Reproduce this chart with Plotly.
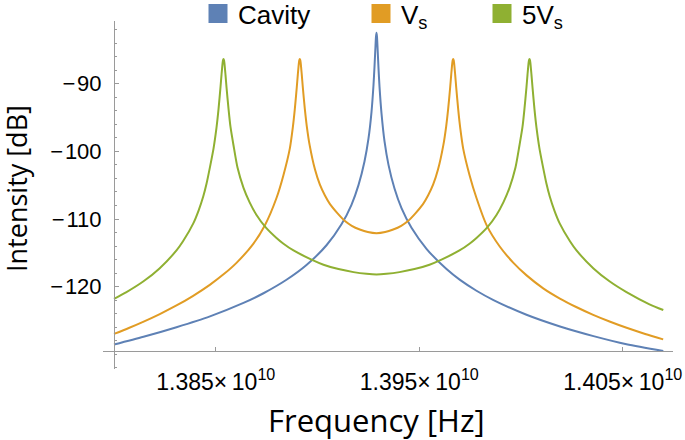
import plotly.graph_objects as go

# ---- data ----
center_freq_hz = 13.92899e9          # common centre frequency of the spectra

# Cavity
cavity_detuning_mhz = [-129.0, -114.5, -98.28, -81.82, -65.36, -55.53, -44.23, -34.40, -24.57, -17.20,
                       -12.29, -8.85, -5.90, -3.93, -2.46, -1.47, -0.98, -0.49, -0.25, 0.0,
                       0.25, 0.49, 0.98, 1.47, 2.46, 3.93, 5.90, 8.85, 12.29, 17.20,
                       24.57, 34.40, 41.03, 49.14, 57.49, 73.71, 90.17, 106.63, 122.85, 140.93]
cavity_db = [-128.55, -127.4, -125.98, -124.38, -122.4, -120.97, -118.98, -116.8, -113.88, -110.78,
             -107.9, -105.0, -101.5, -98.1, -94.2, -90.2, -87.5, -84.4, -83.06, -82.5,
             -83.1, -84.5, -87.7, -90.4, -94.4, -98.5, -102.0, -105.5, -108.4, -111.3,
             -114.4, -117.4, -119.0, -120.6, -121.98, -124.15, -125.88, -127.3, -128.5, -129.5]

# Vs
vs_detuning_mhz = [-129.0, -121.72, -114.69, -106.49, -98.28, -90.27, -81.92, -74.55, -68.80, -60.64,
                   -54.89, -49.14, -45.80, -42.60, -41.13, -40.15, -39.16, -38.67, -38.18, -37.94, -37.69,
                   -37.44, -37.20, -36.71, -36.22, -35.23, -34.25, -32.78, -30.22, -27.86, -25.40,
                   -22.85, -19.02, -15.48, -12.14, -8.21, -4.27, 0.0,
                   4.27, 8.21, 12.14, 15.48, 19.02, 22.85, 25.40, 27.86, 30.22, 32.78,
                   34.25, 35.23, 36.22, 36.71, 37.20, 37.44, 37.69,
                   37.94, 38.18, 38.67, 39.16, 40.15, 41.13, 42.60, 45.80, 49.14, 54.10,
                   60.64, 67.17, 73.76, 81.92, 90.12, 98.13, 106.49, 114.84, 122.90, 132.04, 140.88]
vs_db = [-126.98, -126.1, -125.19, -124.04, -122.77, -121.38, -119.73, -118.03, -116.48, -113.71,
         -110.96, -106.9, -103.6, -99.6, -96.5, -93.8, -90.5, -88.7, -87.07, -86.54, -86.35,
         -86.54, -87.07, -88.7, -90.5, -93.7, -96.3, -99.2, -102.7, -104.9, -106.5,
         -107.8, -109.2, -110.3, -111.0, -111.55, -111.93, -112.1,
         -111.93, -111.55, -111.0, -110.3, -109.2, -107.8, -106.5, -104.9, -102.7, -99.2,
         -96.3, -93.7, -90.5, -88.7, -87.07, -86.54, -86.35,
         -86.54, -87.07, -88.7, -90.5, -93.8, -96.5, -99.6, -103.6, -106.9, -110.9,
         -114.1, -116.44, -118.33, -120.24, -121.75, -123.0, -124.16, -125.18, -126.07, -126.98, -127.78]

# 5Vs
v5s_detuning_mhz = [-129.0, -122.85, -114.49, -106.63, -98.28, -95.08, -90.02, -87.47, -85.11, -83.53,
                    -81.81, -80.09, -78.62, -77.64, -76.65, -76.16, -75.67, -75.43, -75.18,
                    -74.93, -74.69, -74.20, -73.71, -72.72, -71.74, -70.27, -68.30, -65.35, -62.40,
                    -58.96, -54.54, -49.14, -45.70, -40.78, -31.94, -26.04, -18.67, -11.30, -4.91, 0.0,
                    4.91, 11.30, 18.67, 26.04, 31.94, 40.78, 45.70, 49.14, 54.54, 58.96,
                    62.40, 65.35, 68.30, 70.27, 71.74, 72.72, 73.71, 74.20, 74.69, 74.93, 75.18,
                    75.43, 75.67, 76.16, 76.65, 77.64, 78.62, 80.09, 81.81, 83.53, 85.11,
                    87.47, 90.02, 95.08, 98.28, 106.63, 114.49, 122.85, 134.15, 140.93]
v5s_db = [-121.8, -120.8, -119.2, -117.3, -114.65, -113.3, -110.65, -108.8, -106.65, -104.8,
          -102.3, -99.6, -96.5, -93.8, -90.5, -88.7, -87.07, -86.54, -86.35,
          -86.54, -87.07, -88.7, -90.5, -93.7, -96.4, -99.1, -102.4, -105.4, -107.5,
          -109.4, -111.2, -112.8, -113.65, -114.65, -116.0, -116.75, -117.4, -117.85, -118.1, -118.2,
          -118.1, -117.85, -117.4, -116.75, -116.0, -114.65, -113.65, -112.8, -111.2, -109.4,
          -107.5, -105.4, -102.4, -99.1, -96.4, -93.7, -90.5, -88.7, -87.07, -86.54, -86.35,
          -86.54, -87.07, -88.7, -90.5, -93.8, -96.5, -99.6, -102.3, -104.8, -106.65,
          -108.8, -110.65, -113.3, -114.65, -117.3, -119.2, -120.8, -122.6, -123.45]

series_names = ["Cavity", "V<sub>s</sub>", "5V<sub>s</sub>"]
series_colors = ["#5E81B5", "#E19C24", "#8FB032"]

x_tick_vals = [1.385e10, 1.395e10, 1.405e10]
x_tick_text = ["1.385×\u200910<sup>10</sup>", "1.395×\u200910<sup>10</sup>",
               "1.405×\u200910<sup>10</sup>"]
y_tick_vals = [-120, -110, -100, -90]
y_tick_text = ["\u2212\u200a120", "\u2212\u200a110", "\u2212\u200a100", "\u2212\u200a90"]

x_range = [13.794595e9, 14.074693e9]
y_range = [-132.16, -80.75]
x_axis_at_db = -129.5
y_axis_at_hz = 1.38e10

# ---- figure ----
def to_hz(det):
    return [center_freq_hz + d * 1e6 for d in det]

curves = [(cavity_detuning_mhz, cavity_db), (vs_detuning_mhz, vs_db), (v5s_detuning_mhz, v5s_db)]

fig = go.Figure()
for (det, db), col in zip(curves, series_colors):
    fig.add_trace(go.Scatter(x=to_hz(det), y=db, mode="lines",
                             line=dict(color=col, width=2, shape="spline", smoothing=0.7),
                             showlegend=False, hoverinfo="skip"))

legend_ids = ["legend", "legend2", "legend3"]
for name, col, lid in zip(series_names, series_colors, legend_ids):
    fig.add_trace(go.Scatter(x=[None], y=[None], mode="markers", name=name, legend=lid,
                             marker=dict(symbol="square", size=16, color=col,
                                         line=dict(width=3, color=col)),
                             showlegend=True))

W, H = 685, 440
ml, mr, mt, mb = 103, 12, 21, 71
plot_h = H - mt - mb
xpos = (y_axis_at_hz - x_range[0]) / (x_range[1] - x_range[0])
ypos = (x_axis_at_db - y_range[0]) / (y_range[1] - y_range[0])

axis_col = "#9a9a9a"
tick_font_family = "Liberation Sans, Arial, sans-serif"
title_family = "Open Sans, Noto Sans, sans-serif"

legend_top_px = -10
legend_common = dict(xref="container", yref="paper", yanchor="top",
                     y=(H - mb - legend_top_px) / plot_h,
                     orientation="h", bgcolor="rgba(0,0,0,0)", borderwidth=0,
                     font=dict(family=tick_font_family, size=26, color="black"),
                     itemwidth=30, itemsizing="trace")

fig.update_layout(
    width=W, height=H,
    margin=dict(l=ml, r=mr, t=mt, b=mb, pad=0, autoexpand=False),
    paper_bgcolor="white", plot_bgcolor="white",
    xaxis=dict(range=x_range, anchor="free", position=ypos, showgrid=False, zeroline=False,
               showline=True, linecolor=axis_col, linewidth=1,
               ticks="inside", ticklen=4, tickcolor=axis_col, tickwidth=1,
               tickvals=x_tick_vals, ticktext=x_tick_text, ticklabelstandoff=10,
               tickfont=dict(family=tick_font_family, size=23, color="black")),
    yaxis=dict(range=y_range, anchor="free", position=xpos, showgrid=False, zeroline=False,
               showline=True, linecolor=axis_col, linewidth=1,
               ticks="inside", ticklen=4, tickcolor=axis_col, tickwidth=1,
               tickvals=y_tick_vals, ticktext=y_tick_text, ticklabelstandoff=8,
               tickfont=dict(family=tick_font_family, size=22, color="black"),
               minor=dict(dtick=2, ticks="inside", ticklen=2.5, tickcolor=axis_col, tickwidth=1)),
    legend=dict(x=198 / W, **legend_common),
    legend2=dict(x=361 / W, **legend_common),
    legend3=dict(x=482 / W, **legend_common),
    annotations=[
        dict(text="Intensity [dB]", xref="paper", yref="paper",
             x=(16 - ml) / (W - ml - mr), y=(H - mb - 189) / plot_h,
             textangle=-90, showarrow=False, xanchor="center", yanchor="middle",
             font=dict(family=title_family, size=27, color="black")),
        dict(text="Frequency [Hz]", xref="paper", yref="paper",
             x=(376 - ml) / (W - ml - mr), y=(H - mb - 420) / plot_h,
             showarrow=False, xanchor="center", yanchor="middle",
             font=dict(family=title_family, size=31, color="black")),
    ],
)

fig.write_html("out.html", config={"displayModeBar": False})
